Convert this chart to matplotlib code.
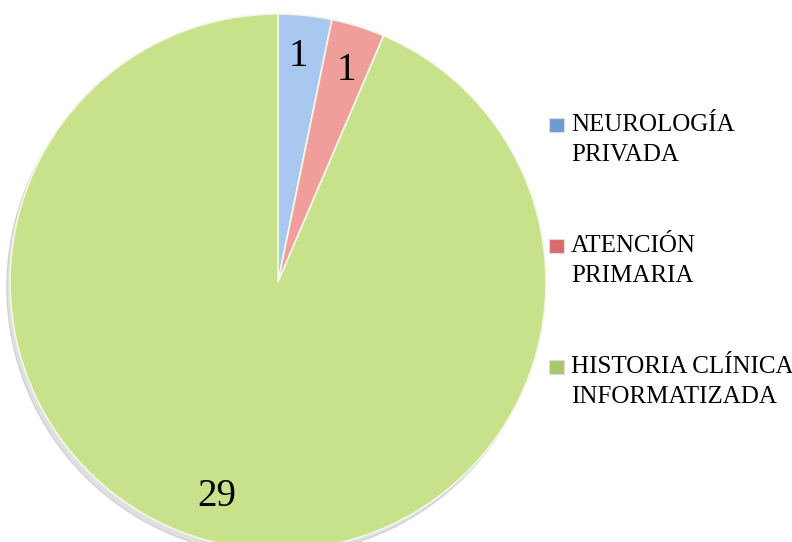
import matplotlib
matplotlib.use("Agg")
import matplotlib.pyplot as plt
from matplotlib.patches import Rectangle, Circle

# data
labels = ["NEUROLOGÍA\nPRIVADA", "ATENCIÓN\nPRIMARIA", "HISTORIA CLÍNICA\nINFORMATIZADA"]
values = [1, 1, 29]
colors = ["#a9c8ef", "#f09e9c", "#c8e28c"]
marker_colors = ["#6f9bd3", "#d96b68", "#a9c86a"]

W, H = 792, 542
cx, cy, r = 278, 282, 268

fig = plt.figure(figsize=(W / 100, H / 100), dpi=100)
ax = fig.add_axes([0, 0, 1, 1])

# soft shadow under the pie
ax.add_patch(Circle((-0.012, -0.02), 1.0, color="#9a9a9a", alpha=0.3, zorder=0))

wedges, texts = ax.pie(values, colors=colors, startangle=90, counterclock=False,
                       radius=1.0, center=(0, 0), frame=True,
                       wedgeprops=dict(linewidth=1.2, edgecolor="#f4f8ea"))
for w in wedges:
    w.set_zorder(1)

# value labels
label_pos = [(0.076, 0.84), (0.255, 0.79), (-0.23, -0.80)]
for v, (x, y) in zip(values, label_pos):
    ax.text(x, y, str(v), fontsize=28, family="Liberation Serif",
            ha="center", va="center", zorder=3)

ax.set_xlim(-cx / r, (W - cx) / r)
ax.set_ylim((cy - H) / r, cy / r)
ax.set_aspect("auto")
ax.axis("off")

# legend drawn by hand (marker aligned with first line)
top_y = [125, 246, 367]
for lab, mc, y in zip(labels, marker_colors, top_y):
    fig.patches.append(Rectangle((549 / W, 1 - (y + 7) / H), 15 / W, 14 / H,
                                 transform=fig.transFigure, facecolor=mc,
                                 edgecolor="#dddddd", linewidth=0.8))
    fig.text(571 / W, 1 - (y - 11) / H, lab, fontsize=18, family="Liberation Serif",
             va="top", ha="left", linespacing=1.45)

fig.savefig("out.png", dpi=100)
